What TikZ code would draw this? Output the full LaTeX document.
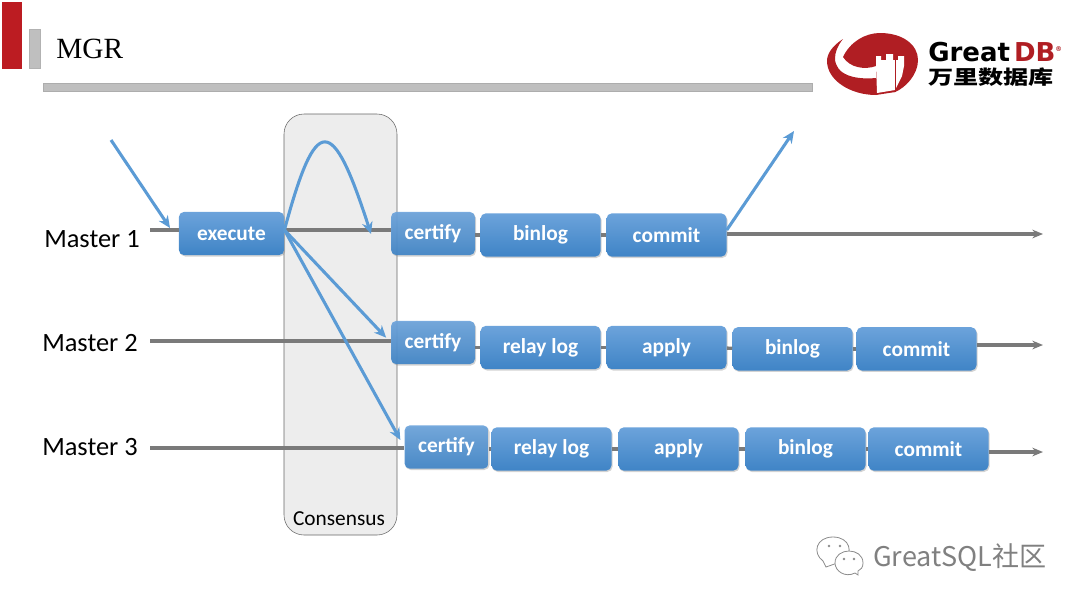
\documentclass[tikz,border=0pt]{standalone}
\usepackage{fontspec}
\setmainfont{Carlito}
\newfontfamily\titlefont{Liberation Serif}
\newfontfamily\logofont{DejaVu Sans}
\newfontfamily\cjkfont{Noto Sans CJK SC}
\usetikzlibrary{shadows,arrows.meta}

\definecolor{boxtop}{HTML}{6CA3DB}
\definecolor{boxbottom}{HTML}{3F84C6}
\definecolor{linkblue}{HTML}{5B9BD5}
\definecolor{logored}{HTML}{B01E23}
\definecolor{barred}{HTML}{BC1C22}

\tikzstyle{stage} = [rectangle, rounded corners=4pt, minimum width=90pt, minimum height=32.5pt, inner sep=0pt, text centered, text=white, font=\bfseries\fontsize{16}{16}\selectfont, top color=boxtop, bottom color=boxbottom, drop shadow={shadow xshift=0.8pt, shadow yshift=-1pt, opacity=0.35}]
\tikzstyle{gate} = [stage, minimum width=63pt, fill opacity=0.92, text opacity=1]
\tikzstyle{master} = [font=\fontsize{19.8}{19.8}\selectfont, inner sep=0pt]
\tikzstyle{link} = [line width=2.5pt, draw=black!52]
\tikzstyle{flow} = [link, -{Stealth[length=8pt,width=6.5pt]}]
\tikzstyle{arrow} = [line width=2.3pt, draw=linkblue, -{Stealth[length=9pt,width=8pt]}]
\tikzstyle{bar} = [draw=black!30, fill=black!25, drop shadow={shadow xshift=0.8pt, shadow yshift=-0.8pt, opacity=0.3}]

\begin{document}
\begin{tikzpicture}[x=0.75pt, y=-0.75pt, node distance=94.5pt]
    \useasboundingbox (0,0) rectangle (1080,608);

    % header
    \draw [bar, draw=barred, fill=barred] (2,2) rectangle (21,68);
    \draw [bar] (29,29) rectangle (40,68);
    \fill [black!25, draw=black!32] (43,83) rectangle (812,91);
    \node (title) [anchor=west, inner sep=0pt, font=\titlefont\fontsize{22}{22}\selectfont] at (56,49) {MGR};

    % logo
    \fill [logored] (843,39) .. controls (832,46) and (827,54) .. (827,61) .. controls (827,80) and (850,95) .. (876,95) -- (895,92) -- (876,78) .. controls (855,80) and (835,75) .. (835,58) .. controls (835,52) and (838,45) .. (843,39) -- cycle;
    \fill [logored] (843,57) .. controls (850,42) and (865,33) .. (880,33) .. controls (903,33) and (918,45) .. (918,60) .. controls (918,75) and (905,88) .. (895,92) -- (876,92) -- (876,66) .. controls (865,70) and (850,68) .. (843,57) -- cycle;
    \fill [white] (876,65) -- (876,56) -- (881,56) -- (881,60) -- (886,60) -- (886,54) -- (893,54) -- (893,60) -- (898,60) -- (898,56) -- (904,56) -- (904,66) -- (902,76) -- (895,90) -- (877,93) -- cycle;
    \draw [logored, line width=0.7pt] (895,60) -- (895,92);
    \node (great) [anchor=west, inner sep=0pt, font=\logofont\bfseries\fontsize{19.5}{19.5}\selectfont] at (928,52) {Great\hspace{3pt}\textcolor{logored}{DB}\textsuperscript{\tiny\textcolor{logored}{®}}};
    \node (wanli) [anchor=west, inner sep=0pt, xscale=1.3, font=\cjkfont\bfseries\fontsize{14.5}{14.5}\selectfont] at (928,77) {万里数据库};

    % watermark
    \draw [black!45, fill=white, line width=0.6pt] (826,567) -- (823,561) .. controls (812,553) and (816,537) .. (833,537) .. controls (850,537) and (854,553) .. (843,561) -- cycle;
    \draw [black!45, fill=white, line width=0.6pt] (858,575) -- (855,573) .. controls (845,578) and (835,571) .. (835,563) .. controls (835,555) and (842,551) .. (849,551) .. controls (856,551) and (863,555) .. (863,563) .. controls (863,567) and (861,570) .. (858,571) -- cycle;
    \fill [black!45] (829,546) circle (1.3) (840,546) circle (1.3) (844,559) circle (1.3) (854,559) circle (1.3);
    \node (wechat) [anchor=west, inner sep=0pt, text=black!50, font=\cjkfont\fontsize{20.3}{20.3}\selectfont] at (873,558) {GreatSQL社区};

    % consensus
    \node (consensus) [draw=black!60, fill=black!7, rounded corners=15pt, minimum width=84.75pt, minimum height=315.75pt, inner sep=0pt] at (340.5,324.5) {};
    \node (consensuslabel) [font=\fontsize{16}{16}\selectfont, inner sep=0pt] at (339,519) {Consensus};

    % master 1
    \node (m1) [master] at (92,239) {Master 1};
    \node (execute) [stage, minimum width=79pt] at (231.5,233.5) {execute};
    \node (certify1) [gate] at (433,233.5) {certify};
    \node (binlog1) [stage] at (540.5,235) {binlog};
    \node (commit1) [stage, right of=binlog1] {commit};

    % master 2
    \node (m2) [master] at (90,343) {Master 2};
    \node (certify2) [gate] at (433,342.5) {certify};
    \node (relay2) [stage] at (540.5,347.5) {relay log};
    \node (apply2) [stage, right of=relay2] {apply};
    \node (binlog2) [stage, right of=apply2, yshift=-1pt] {binlog};
    \node (commit2) [stage, right of=binlog2, xshift=-1.5pt] {commit};

    % master 3
    \node (m3) [master] at (90,447) {Master 3};
    \node (certify3) [gate] at (446.5,447) {certify};
    \node (relay3) [stage] at (551.5,449) {relay log};
    \node (apply3) [stage, right of=relay3, xshift=0.75pt] {apply};
    \node (binlog3) [stage, right of=apply3, xshift=0.75pt] {binlog};
    \node (commit3) [stage, right of=binlog3, xshift=-2.25pt] {commit};

    % free ends
    \coordinate (in1) at (150,230);
    \coordinate (in2) at (150,341);
    \coordinate (in3) at (150,448);
    \coordinate (out1) at (1043,234);
    \coordinate (out2) at (1043,345);
    \coordinate (out3) at (1043,452);
    \coordinate (client) at (111,140);
    \coordinate (clientin) at (170,228);
    \coordinate (selfin) at (371,234);
    \coordinate (reply) at (794,131);

    \draw [link] (in1) -- (execute.west |- in1);
    \draw [link] (execute.east |- in1) -- (certify1.west |- in1);
    \draw [link] (certify1.east |- binlog1) -- (binlog1.west);
    \draw [link] (binlog1) -- (commit1);
    \draw [flow] (commit1.east |- out1) -- (out1);

    \draw [link] (in2) -- (certify2.west |- in2);
    \draw [link] (certify2.east |- relay2) -- (relay2.west);
    \draw [link] (relay2) -- (apply2);
    \draw [link] (apply2) -- (binlog2);
    \draw [link] (binlog2) -- (commit2);
    \draw [flow] (commit2.east |- out2) -- (out2);

    \draw [link] (in3) -- (certify3.west |- in3);
    \draw [link] (certify3.east |- relay3) -- (relay3.west);
    \draw [link] (relay3) -- (apply3);
    \draw [link] (apply3) -- (binlog3);
    \draw [link] (binlog3) -- (commit3);
    \draw [flow] (commit3.east |- out3) -- (out3);

    \draw [arrow] (client) -- (clientin);
    \draw [arrow] (execute.east |- in1) .. controls (316,113) and (332,113) .. (selfin);
    \draw [arrow, shorten >=5pt] (execute.east |- in1) -- (certify2.west);
    \draw [arrow, shorten >=6pt] (execute.east |- in1) -- (certify3.west);
    \draw [arrow] (commit1.east |- in1) -- (reply);

\end{tikzpicture}
\end{document}
